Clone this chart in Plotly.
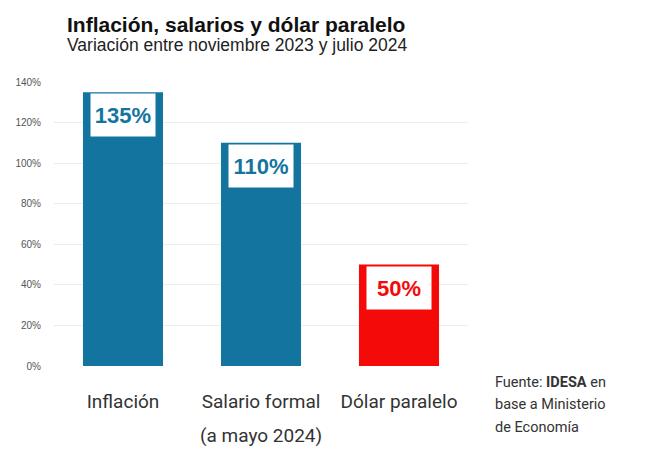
import plotly.graph_objects as go

categorias = ["Inflación", "Salario formal", "Dólar paralelo"]
notas = ["", "(a mayo 2024)", ""]
variacion = [135, 110, 50]
colores = ["#13759f", "#13759f", "#f50a0a"]
ticks_y = [0, 20, 40, 60, 80, 100, 120, 140]
fuente = ["Fuente: <b>IDESA</b> en", "base a Ministerio", "de Economía"]

fig = go.Figure()

fig.add_trace(go.Bar(
    x=categorias,
    y=variacion,
    marker=dict(color=colores, line=dict(width=0)),
    width=0.58,
    hoverinfo="skip",
))

# etiquetas de valor en caja blanca dentro de la barra
for cat, val, col in zip(categorias, variacion, colores):
    fig.add_annotation(
        x=cat, y=val, xref="x", yref="y",
        text=f"<b>{val}%</b>",
        showarrow=False,
        yanchor="top", yshift=-1,
        bgcolor="white",
        width=62, height=40,
        font=dict(family="Liberation Sans", size=22, color=col),
    )

# segunda linea de las categorias
for cat, nota in zip(categorias, notas):
    if nota:
        fig.add_annotation(
            x=cat, y=-0.245, xref="x", yref="paper",
            text=nota, showarrow=False, yanchor="middle",
            font=dict(family="Roboto", size=19, color="#333333"),
        )

fig.add_annotation(
    x=0.027, y=1.25, xref="paper", yref="paper",
    xanchor="left", yanchor="top", showarrow=False,
    text="<b>Inflación, salarios y dólar paralelo</b>",
    font=dict(family="Liberation Sans", size=21, color="#111111"),
)
fig.add_annotation(
    x=0.027, y=1.172, xref="paper", yref="paper",
    xanchor="left", yanchor="top", showarrow=False,
    text="Variación entre noviembre 2023 y julio 2024",
    font=dict(family="Liberation Sans", size=17.5, color="#222222"),
)
for i, linea in enumerate(fuente):
    fig.add_annotation(
        x=1.06, y=-0.021 - i * 0.079, xref="paper", yref="paper",
        xanchor="left", yanchor="top", showarrow=False, align="left",
        text=linea,
        font=dict(family="Roboto", size=14.5, color="#333333"),
    )

fig.update_layout(
    width=650, height=450,
    margin=dict(l=46, r=190, t=74, b=92, autoexpand=False),
    paper_bgcolor="white",
    plot_bgcolor="white",
    showlegend=False,
    xaxis=dict(
        showgrid=False, showline=False, ticks="",
        tickfont=dict(family="Roboto", size=19, color="#333333"),
        range=[-0.5, 2.5],
        ticklabelstandoff=22,
        automargin=False,
    ),
    yaxis=dict(
        range=[0, 140],
        tickvals=ticks_y,
        ticktext=[f"{t}%" for t in ticks_y],
        tickfont=dict(family="Liberation Sans", size=10, color="#555555"),
        showgrid=True, gridcolor="#ececec", gridwidth=1,
        zeroline=False, showline=False,
        ticklabelstandoff=12,
        automargin=False,
    ),
)

fig.write_html("out.html")
